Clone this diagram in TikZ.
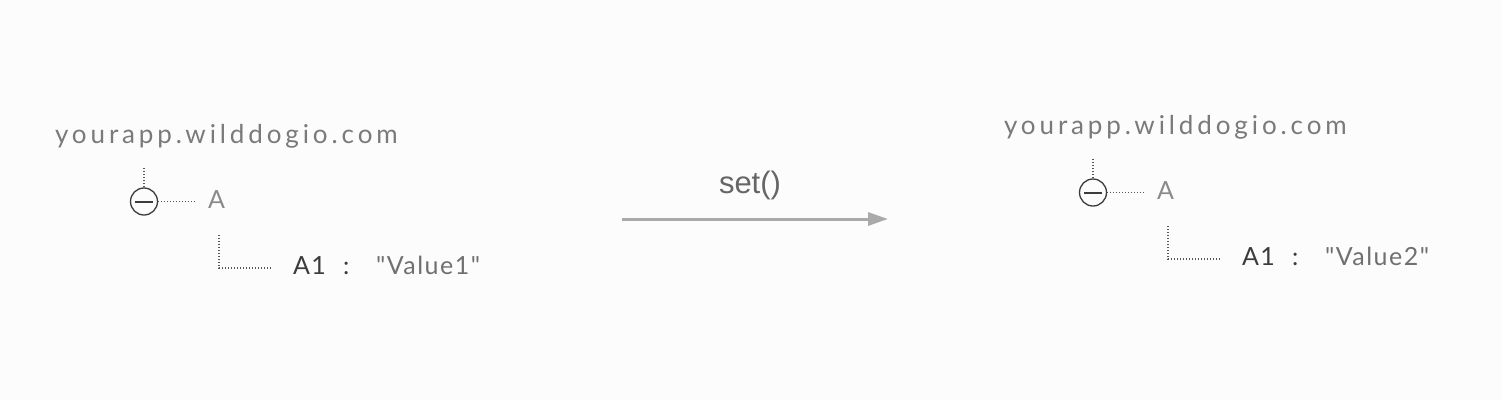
\documentclass[tikz,border=0pt]{standalone}
\usepackage{fontspec}
\newfontfamily\treefont[LetterSpace=6]{Lato}
\newfontfamily\urlfont[LetterSpace=15]{Lato}
\newfontfamily\setfont{Liberation Sans}
\usetikzlibrary{arrows.meta}
\definecolor{bg}{HTML}{FCFCFC}
\definecolor{urlc}{HTML}{7A7A7A}
\definecolor{ac}{HTML}{8A8A8A}
\definecolor{darkc}{HTML}{3C3C3C}
\definecolor{valc}{HTML}{707070}
\definecolor{linec}{HTML}{555555}
\definecolor{arrc}{HTML}{AAAAAA}
\definecolor{setc}{HTML}{666666}
\tikzset{
  txt/.style={anchor=base west, inner sep=0pt, outer sep=0pt},
  urltxt/.style={txt, text=urlc, font=\urlfont\fontsize{26}{30}\selectfont},
  keytxt/.style={txt, text=ac, font=\treefont\fontsize{25}{30}\selectfont},
  childtxt/.style={txt, text=darkc, font=\treefont\fontsize{25}{30}\selectfont},
  valtxt/.style={txt, text=valc, font=\treefont\fontsize{25}{30}\selectfont},
  minusnode/.style={circle, draw=darkc, line width=1.3pt, minimum size=27pt, inner sep=0pt},
  dotline/.style={draw=linec, line width=1.2pt, dash pattern=on 1.2pt off 1.8pt},
}
\begin{document}
\begin{tikzpicture}[x=1pt,y=-1pt]
\fill[bg] (0,0) rectangle (1502,400);
\useasboundingbox (0,0) rectangle (1502,400);
\foreach \n/\dx/\dy/\v in {L/0/0/Value1, R/949/-9/Value2}{
  \begin{scope}[shift={(\dx,\dy)}]
    \node[urltxt] (\n-url) at (55,143) {yourapp.wilddogio.com};
    \coordinate (\n-top) at (144,168);
    \node[minusnode] (\n-c) at (144,201.5) {};
    \draw[darkc, line width=2pt] ([xshift=-9pt]\n-c.center) -- ([xshift=9pt]\n-c.center);
    \node[keytxt] (\n-a) at (208,208.5) {A};
    \coordinate (\n-ae) at (196,201.5);
    \coordinate (\n-vt) at (219,235);
    \coordinate (\n-corner) at (219,268);
    \coordinate (\n-he) at (272,268);
    \node[childtxt] (\n-a1) at (293,274) {A1};
    \node[childtxt] (\n-colon) at (343,274) {:};
    \node[valtxt] (\n-val) at (376,274) {"\v"};
    \draw[dotline] (\n-top) -- (\n-c.north);
    \draw[dotline] (\n-c.east) -- (\n-ae);
    \draw[dotline] (\n-vt) -- (\n-corner) -- (\n-he);
  \end{scope}
}
\coordinate (as) at (622,219);
\coordinate (ae) at (888,219);
\draw[arrc, line width=3pt, -{Triangle[length=20pt,width=13pt]}] (as) -- (ae);
\node[text=setc, font=\setfont\fontsize{31}{36}\selectfont, inner sep=0pt] (set) at (750,185) {set()};
\end{tikzpicture}
\end{document}
